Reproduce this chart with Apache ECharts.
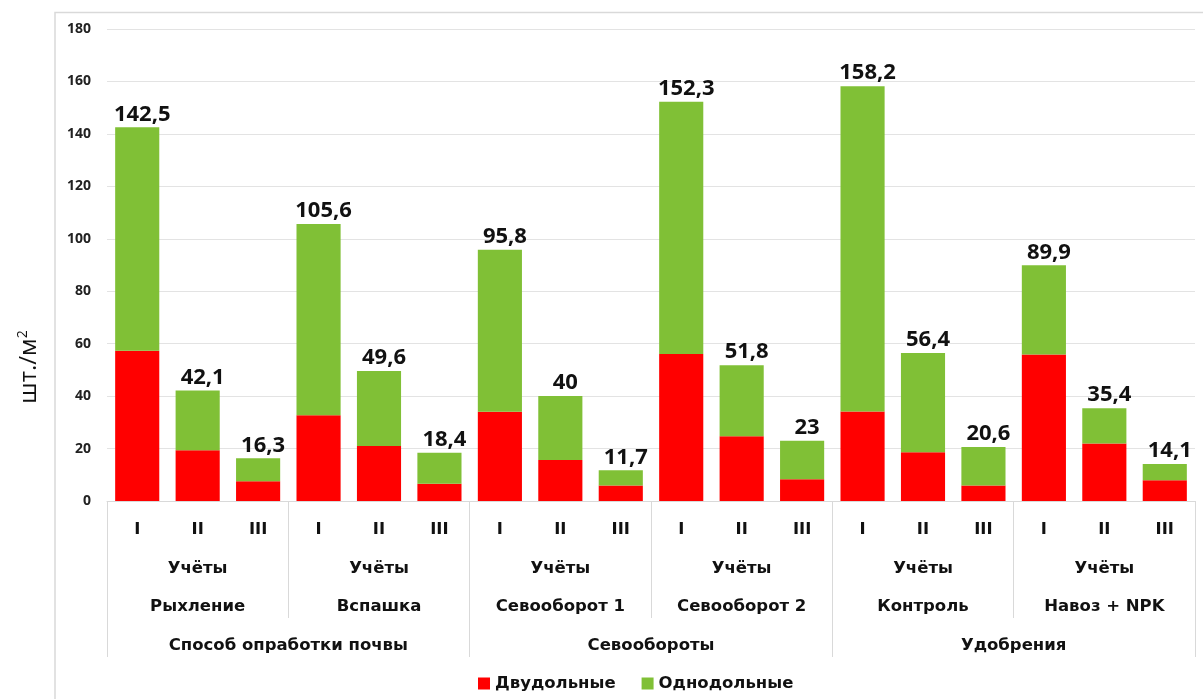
<!DOCTYPE html>
<html>
<head>
<meta charset="utf-8">
<script src="https://cdn.jsdelivr.net/npm/echarts@6/dist/echarts.min.js"></script>
<style>
  html, body { margin: 0; padding: 0; background: #fff; }
  #chart { width: 1203px; height: 699px; }
</style>
</head>
<body>
<div id="chart"></div>
<script>
// Weed counts (шт./м²) by survey round, grouped by treatment and treatment type
const rounds = ['I', 'II', 'III'];
const groups = ['Рыхление', 'Вспашка', 'Севооборот 1', 'Севооборот 2', 'Контроль', 'Навоз + NPK'];
const sections = ['Способ опработки почвы', 'Севообороты', 'Удобрения'];
const roundCaption = 'Учёты';
const seriesNames = ['Двудольные', 'Однодольные'];

const dicots   = [57.3, 19.4, 7.5, 32.7, 21.0, 6.6, 34.0, 15.6, 5.9, 56.1, 24.7, 8.3, 34.1, 18.6, 5.9, 55.9, 21.9, 7.9];
const monocots = [85.2, 22.7, 8.8, 72.9, 28.6, 11.8, 61.8, 24.4, 5.8, 96.2, 27.1, 14.7, 124.1, 37.8, 14.7, 34.0, 13.5, 6.2];

const yTicks = { min: 0, max: 180, interval: 20 };

// one category per (group, round) pair
const categories = [];
groups.forEach(g => rounds.forEach(r => categories.push(g + '|' + r)));

const FONT = '"Open Sans", "DejaVu Sans", sans-serif';
const CAT_FONT = '"DejaVu Sans", sans-serif';
const CAT_SIZE = 16.5;
const LINE = '#d9d9d9';

function fmtTotal(i) {
  let s = (dicots[i] + monocots[i]).toFixed(1);
  if (s.endsWith('.0')) s = s.slice(0, -2);
  return s.replace('.', ',');
}

const chart = echarts.init(document.getElementById('chart'), null, { renderer: 'canvas' });

chart.setOption({
  backgroundColor: '#fff',
  animation: false,
  grid: { left: 107, right: 8, top: 29, bottom: 198, containLabel: false },
  legend: {
    data: seriesNames,
    left: 473,
    top: 670,
    itemWidth: 12,
    itemHeight: 12,
    itemGap: 26,
    icon: 'rect',
    textStyle: { fontFamily: CAT_FONT, fontWeight: 'bold', fontSize: CAT_SIZE, color: '#111' }
  },
  xAxis: [
    {
      type: 'category',
      data: categories,
      position: 'bottom',
      axisLine: { show: true, lineStyle: { color: LINE, width: 1 } },
      axisTick: { show: false },
      axisLabel: {
        interval: 0,
        margin: 21,
        formatter: v => v.split('|')[1],
        fontFamily: CAT_FONT, fontWeight: 'bold', fontSize: CAT_SIZE, lineHeight: 16, color: '#111'
      }
    },
    {
      type: 'category',
      data: groups,
      position: 'bottom',
      gridIndex: 0,
      axisLine: { show: false },
      axisTick: { show: true, length: 117, interval: 0, lineStyle: { color: LINE, width: 1 } },
      axisLabel: {
        interval: 0,
        margin: 48,
        formatter: v => roundCaption + '\n' + v,
        fontFamily: CAT_FONT, fontWeight: 'bold', fontSize: CAT_SIZE, lineHeight: 38.5, color: '#111'
      }
    },
    {
      type: 'category',
      data: sections,
      position: 'bottom',
      gridIndex: 0,
      axisLine: { show: false },
      axisTick: { show: true, length: 156, interval: 0, lineStyle: { color: LINE, width: 1 } },
      axisLabel: {
        interval: 0,
        margin: 137,
        fontFamily: CAT_FONT, fontWeight: 'bold', fontSize: CAT_SIZE, lineHeight: 16, color: '#111'
      }
    }
  ],
  yAxis: {
    type: 'value',
    min: yTicks.min,
    max: yTicks.max,
    interval: yTicks.interval,
    axisLine: { show: false },
    axisTick: { show: false },
    splitLine: { lineStyle: { color: '#e3e3e3', width: 1 } },
    axisLabel: {
      margin: 16,
      fontFamily: FONT, fontWeight: 700, fontSize: 14, color: '#222'
    }
  },
  series: [
    {
      name: seriesNames[0],
      type: 'bar',
      stack: 'total',
      xAxisIndex: 0,
      barCategoryGap: '27%',
      itemStyle: { color: '#ff0000' },
      data: dicots
    },
    {
      name: seriesNames[1],
      type: 'bar',
      stack: 'total',
      xAxisIndex: 0,
      barCategoryGap: '27%',
      itemStyle: { color: '#80c036' },
      label: {
        show: true,
        position: 'top',
        distance: 2,
        offset: [5, 0],
        formatter: p => fmtTotal(p.dataIndex),
        fontFamily: FONT, fontWeight: 700, fontSize: 22, color: '#111'
      },
      data: monocots
    }
  ],
  graphic: [
    {
      type: 'rect',
      shape: { x: 55, y: 12.5, width: 1200, height: 720 },
      style: { fill: 'none', stroke: LINE, lineWidth: 1.5 },
      silent: true,
      z: -1
    },
    {
      type: 'text',
      x: 29,
      y: 367,
      rotation: Math.PI / 2,
      style: {
        text: 'шт./м{sup|2}',
        fontFamily: FONT, fontSize: 24, fill: '#111',
        align: 'center', verticalAlign: 'middle',
        rich: { sup: { fontFamily: FONT, fontSize: 14, verticalAlign: 'top', padding: [0, 0, 12, 0], fill: '#111' } }
      }
    }
  ]
});
</script>
</body>
</html>
